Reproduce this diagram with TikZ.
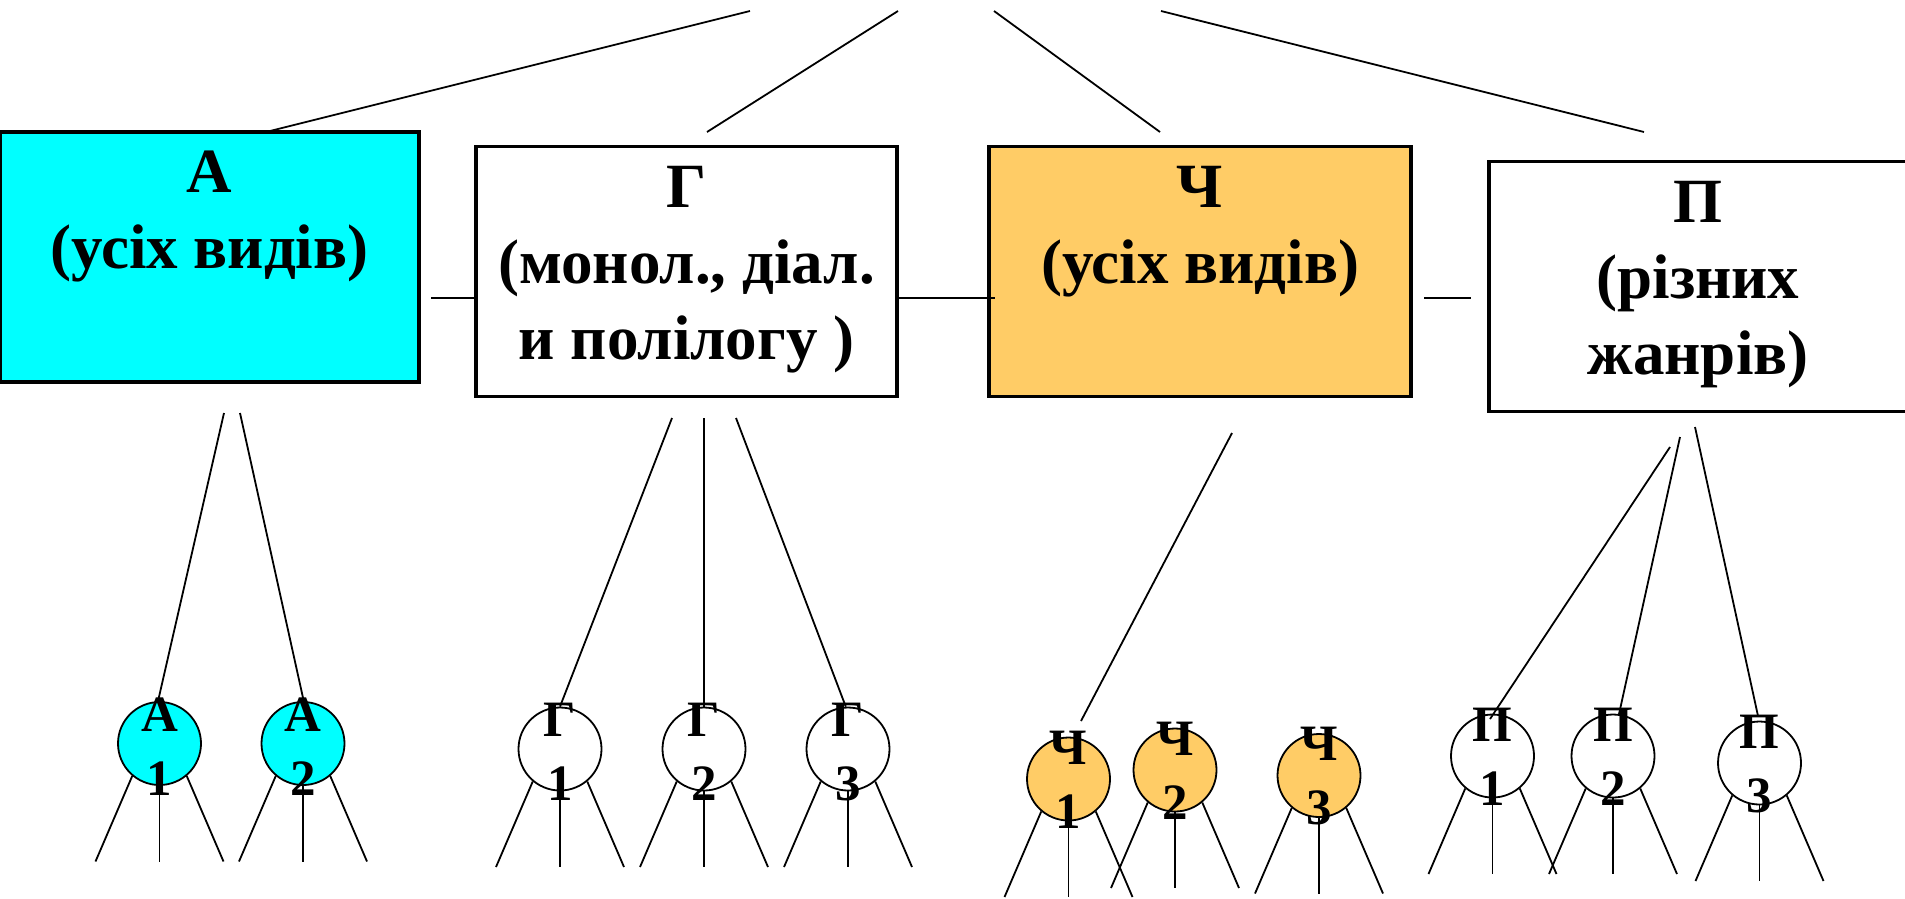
\documentclass[tikz,border=0pt]{standalone}
\usepackage{fontspec}
\setmainfont{Liberation Serif}
\usetikzlibrary{calc}
\definecolor{acyan}{RGB}{0,255,255}
\definecolor{aorange}{RGB}{255,204,102}
\begin{document}
\begin{tikzpicture}[x=1pt,y=-1pt,
  bigbox/.style={draw=black, line width=3.5pt, rectangle, inner sep=0pt, minimum width=#1, minimum height=250pt},
  boxtext/.style={anchor=north, inner sep=0pt, align=center, font=\fontsize{63}{76}\selectfont\bfseries},
  circ/.style={circle, draw=black, line width=1.8pt, minimum size=83pt, inner sep=0pt},
  ctext/.style={inner sep=0pt, align=center, font=\fontsize{51}{64}\selectfont\bfseries},
  conn/.style={line width=1.8pt, line cap=butt}]
\useasboundingbox (0,0) rectangle (1905,898);
\fill[white] (0,0) rectangle (1905,898);

% top boxes
\node[bigbox=419pt, fill=acyan]   (A) at (209.5,257)   {};
\node[bigbox=421pt, fill=white]   (G) at (686.5,271.5) {};
\node[bigbox=422pt, fill=aorange] (C) at (1200,271.5)  {};
\node[bigbox=418pt, fill=white]   (P) at (1698,286.5)  {};

\node[boxtext] (At) at ($(A.north)+(0,20)$) {А\\(усіх видів)};
\node[boxtext] (Gt) at ($(G.north)+(0,21)$) {Г\\(монол., діал.\\и полілогу )};
\node[boxtext] (Ct) at ($(C.north)+(0,21)$) {Ч\\(усіх видів)};
\node[boxtext] (Pt) at ($(P.north)+(0,21)$) {П\\(різних\\жанрів)};

% top free lines
\coordinate (t1) at (750,11);  \coordinate (e1) at (270,131);
\coordinate (t2) at (898,11);  \coordinate (e2) at (707,132);
\coordinate (t3) at (994,11);  \coordinate (e3) at (1160,132);
\coordinate (t4) at (1161,11); \coordinate (e4) at (1644,132);
\draw[conn] (t1) -- (e1);
\draw[conn] (t2) -- (e2);
\draw[conn] (t3) -- (e3);
\draw[conn] (t4) -- (e4);

% middle short lines
\coordinate (m1a) at (431,298);  \coordinate (m1b) at (477,298);
\coordinate (m2a) at (898,298);  \coordinate (m2b) at (995,298);
\coordinate (m3a) at (1424,298); \coordinate (m3b) at (1471,298);
\draw[conn] (m1a) -- (m1b);
\draw[conn] (m2a) -- (m2b);
\draw[conn] (m3a) -- (m3b);

% circles
\node[circ, fill=acyan]   (a1) at (159.5,743.5) {};
\node[circ, fill=acyan]   (a2) at (303,743.5)   {};
\node[circ, fill=white]   (g1) at (560,749)     {};
\node[circ, fill=white]   (g2) at (704,749)     {};
\node[circ, fill=white]   (g3) at (848,749)     {};
\node[circ, fill=aorange] (c1) at (1068.5,779)  {};
\node[circ, fill=aorange] (c2) at (1175,770)    {};
\node[circ, fill=aorange] (c3) at (1319,775.5)  {};
\node[circ, fill=white]   (p1) at (1492.5,756)  {};
\node[circ, fill=white]   (p2) at (1613,756)    {};
\node[circ, fill=white]   (p3) at (1759.5,763)  {};

% legs
\foreach \n in {a1,a2,g1,g2,g3,c1,c2,c3,p1,p2,p3}{
  \coordinate (\n-l) at ($(\n.center)+(-64,118)$);
  \coordinate (\n-m) at ($(\n.center)+(0,118)$);
  \coordinate (\n-r) at ($(\n.center)+(64,118)$);
  \draw[conn] (\n.230) -- (\n-l);
  \draw[conn] (\n.south) -- (\n-m);
  \draw[conn] (\n.310) -- (\n-r);
}

% box to circle lines
\coordinate (ab1) at (224,413);  \coordinate (ab2) at (240,413);
\draw[conn] (ab1) -- (a1.92);
\draw[conn] (ab2) -- (a2.89);
\coordinate (gb1) at (672,418);  \coordinate (gb2) at (704,418); \coordinate (gb3) at (736,418);
\draw[conn] (gb1) -- (g1.north);
\draw[conn] (gb2) -- (g2.north);
\draw[conn] (gb3) -- (g3.93);
\coordinate (cb1) at (1232,433); \coordinate (ce1) at (1081,721);
\draw[conn] (cb1) -- (ce1);
\coordinate (pb1) at (1670,447); \coordinate (pe1) at (1490,719);
\coordinate (pb2) at (1680,437); \coordinate (pe2) at (1619,714);
\coordinate (pb3) at (1695,427); \coordinate (pe3) at (1758,716);
\draw[conn] (pb1) -- (pe1);
\draw[conn] (pb2) -- (pe2);
\draw[conn] (pb3) -- (pe3);

% circle labels
\node[ctext] (a1t) at ($(a1)+(0,3)$) {А\\1};
\node[ctext] (a2t) at ($(a2)+(0,3)$) {А\\2};
\node[ctext] (g1t) at ($(g1)+(0,3)$) {Г\\1};
\node[ctext] (g2t) at ($(g2)+(0,3)$) {Г\\2};
\node[ctext] (g3t) at ($(g3)+(0,3)$) {Г\\3};
\node[ctext] (c1t) at ($(c1)+(0,1)$) {Ч\\1};
\node[ctext] (c2t) at ($(c2)+(0,1)$) {Ч\\2};
\node[ctext] (c3t) at ($(c3)+(0,1)$) {Ч\\3};
\node[ctext] (p1t) at ($(p1)+(0,1)$) {П\\1};
\node[ctext] (p2t) at ($(p2)+(0,1)$) {П\\2};
\node[ctext] (p3t) at ($(p3)+(0,1)$) {П\\3};
\end{tikzpicture}
\end{document}
